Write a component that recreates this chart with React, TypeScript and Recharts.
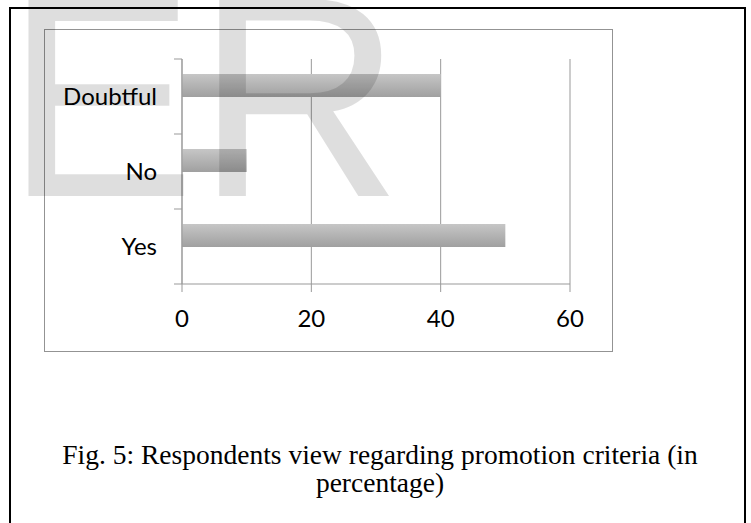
import { BarChart, Bar, XAxis, YAxis, CartesianGrid } from 'recharts'

// survey answers, bottom to top as plotted
const answers = ['Yes', 'No', 'Doubtful']
const percentValues = [50, 10, 40]
// empty second series keeps the bars in the upper half of each band
const spareValues = [0, 0, 0]
const xTicks = [0, 20, 40, 60]

const rows = answers.map((name, i) => ({ name, value: percentValues[i], spare: spareValues[i] }))

const CHART_W = 751
const CHART_H = 523
const MARGIN = { top: 59, right: 181, bottom: 179, left: 62 }
const Y_AXIS_W = 120
const X_AXIS_H = 60
const TICK_LEN = 8
const plotLeft = MARGIN.left + Y_AXIS_W
const plotHeight = CHART_H - MARGIN.top - MARGIN.bottom - X_AXIS_H
const bandHeight = plotHeight / answers.length

const axisGray = '#999999'
const labelFont = { fontFamily: 'Lato, "Open Sans", sans-serif', fontSize: 24, fill: '#000' }

// category label plus the small tick marks sitting on the band boundaries
function CategoryTick(props: any) {
  const { x, y, payload, index } = props
  const half = bandHeight / 2
  return (
    <g>
      <text x={x} y={y} dy="0.355em" textAnchor="end" {...labelFont}>
        {payload.value}
      </text>
      <line x1={plotLeft - TICK_LEN} x2={plotLeft} y1={y - half} y2={y - half} stroke={axisGray} />
      {index === 0 && (
        <line x1={plotLeft - TICK_LEN} x2={plotLeft} y1={y + half} y2={y + half} stroke={axisGray} />
      )}
    </g>
  )
}

export default function App() {
  return (
    <div style={{ position: 'absolute', left: 0, top: 0, width: CHART_W, height: CHART_H, background: '#fff', overflow: 'hidden' }}>
      {/* page frame */}
      <div style={{ position: 'absolute', left: 9, top: 7, width: 737, height: 600, border: '2px solid #000', boxSizing: 'border-box' }} />
      {/* chart area frame */}
      <div style={{ position: 'absolute', left: 44, top: 29, width: 569, height: 323, border: '1.5px solid #939393', boxSizing: 'border-box' }} />

      <div style={{ position: 'absolute', left: 0, top: 0 }}>
        <BarChart
          width={CHART_W}
          height={CHART_H}
          data={rows}
          layout="vertical"
          margin={MARGIN}
          barCategoryGap={15}
          barGap={0}
        >
          <defs>
            <linearGradient id="barShade" x1="0" y1="0" x2="0" y2="1">
              <stop offset="0%" stopColor="#c6c6c6" />
              <stop offset="100%" stopColor="#a0a0a0" />
            </linearGradient>
          </defs>
          <CartesianGrid horizontal={false} stroke={axisGray} />
          <XAxis
            type="number"
            domain={[0, 60]}
            ticks={xTicks}
            height={X_AXIS_H}
            stroke={axisGray}
            tickSize={TICK_LEN}
            tickMargin={18}
            tick={labelFont}
          />
          <YAxis
            type="category"
            dataKey="name"
            reversed
            width={Y_AXIS_W}
            stroke={axisGray}
            tickLine={false}
            tickSize={TICK_LEN}
            tickMargin={17}
            tick={<CategoryTick />}
          />
          <Bar dataKey="value" fill="url(#barShade)" isAnimationActive={false} />
          <Bar dataKey="spare" fill="none" isAnimationActive={false} />
        </BarChart>
      </div>

      {/* watermark */}
      <svg width={CHART_W} height={CHART_H} style={{ position: 'absolute', left: 0, top: 0, pointerEvents: 'none' }}>
        <text x={5} y={196} fontFamily='"Liberation Sans", Arial, sans-serif' fontSize={286} fill="#000" fillOpacity={0.13}>
          ER
        </text>
      </svg>

      <div
        style={{
          position: 'absolute',
          left: 40,
          top: 441,
          width: 680,
          textAlign: 'center',
          fontFamily: '"Liberation Serif", serif',
          fontSize: 27.5,
          lineHeight: '28px',
          color: '#000',
        }}
      >
        Fig. 5: Respondents view regarding promotion criteria (in
        <br />
        percentage)
      </div>
    </div>
  )
}
